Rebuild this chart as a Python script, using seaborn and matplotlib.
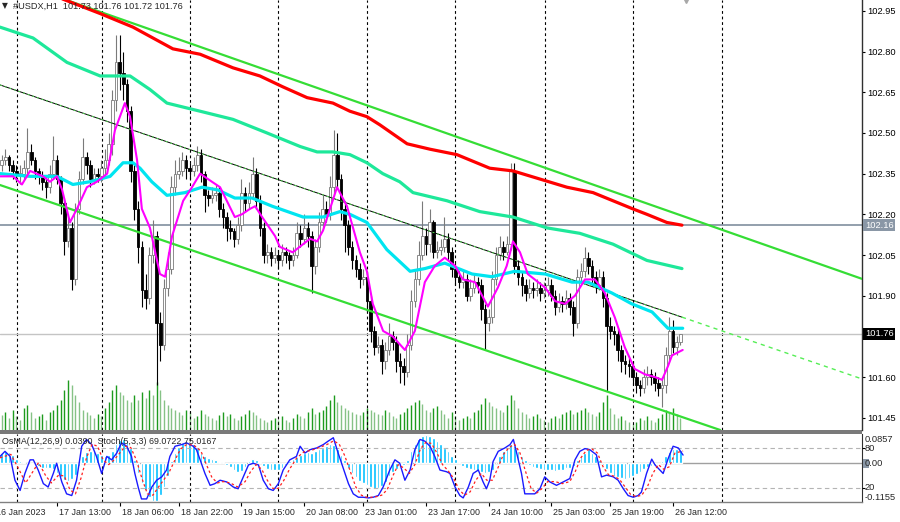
import numpy as np
import pandas as pd
import matplotlib
matplotlib.use("Agg")
import matplotlib.pyplot as plt
import matplotlib.transforms as mtrans
from matplotlib.patches import Rectangle
import seaborn as sns

sns.set_style("white")
plt.rcParams["font.family"] = ["Liberation Sans", "DejaVu Sans"]
plt.rcParams["axes.unicode_minus"] = False

# ---- H1 bars (index 0 = first visible bar) ----
open_first = 102.38
closes = [
    102.40, 102.41, 102.38, 102.36, 102.35, 102.35, 102.37, 102.43, 102.40, 102.36,
    102.34, 102.32, 102.30, 102.35, 102.40, 102.33, 102.24, 102.10, 102.15, 101.96,
    102.22, 102.33, 102.41, 102.38, 102.33, 102.35, 102.34, 102.37, 102.40, 102.46,
    102.62, 102.76, 102.72, 102.68, 102.58, 102.36, 102.22, 102.08, 101.92, 101.89,
    102.05, 102.12, 101.80, 101.72, 101.93, 102.00, 102.30, 102.35, 102.36, 102.40,
    102.37, 102.36, 102.38, 102.42, 102.35, 102.27, 102.26, 102.27, 102.28, 102.22,
    102.19, 102.15, 102.14, 102.11, 102.16, 102.28, 102.24, 102.28, 102.35, 102.25,
    102.15, 102.05, 102.06, 102.04, 102.05, 102.03, 102.06, 102.05, 102.03, 102.05,
    102.13, 102.11, 102.15, 102.12, 102.01, 102.08, 102.17, 102.22, 102.20, 102.30,
    102.42, 102.33, 102.22, 102.16, 102.08, 102.03, 102.00, 101.96, 101.97, 101.88,
    101.77, 101.71, 101.72, 101.66, 101.70, 101.75, 101.73, 101.66, 101.64, 101.62,
    101.72, 101.88, 101.96, 102.05, 102.12, 102.09, 102.17, 102.06, 102.07, 102.08,
    102.11, 102.06, 102.00, 101.97, 101.95, 101.96, 101.90, 101.93, 101.95, 101.94,
    101.85, 101.80, 101.82, 101.96, 102.05, 102.08, 102.06, 102.09, 102.36, 102.01,
    101.97, 101.94, 101.91, 101.93, 101.92, 101.93, 101.91, 101.92, 101.94, 101.90,
    101.86, 101.88, 101.87, 101.89, 101.86, 101.80, 101.97, 101.99, 102.04, 102.01,
    101.97, 101.94, 101.97, 101.89, 101.79, 101.77, 101.76, 101.70, 101.66, 101.65,
    101.64, 101.60, 101.57, 101.56, 101.60, 101.61, 101.60, 101.58, 101.56, 101.57,
    101.68, 101.77, 101.71, 101.73, 101.76]
highs = [
    102.42, 102.44, 102.42, 102.40, 102.38, 102.38, 102.40, 102.52, 102.46, 102.41,
    102.37, 102.36, 102.34, 102.38, 102.49, 102.42, 102.34, 102.26, 102.19, 102.17,
    102.24, 102.36, 102.48, 102.43, 102.40, 102.37, 102.37, 102.40, 102.44, 102.50,
    102.66, 102.86, 102.86, 102.80, 102.70, 102.60, 102.38, 102.25, 102.10, 101.98,
    102.08, 102.18, 102.14, 101.84, 101.96, 102.06, 102.34, 102.40, 102.41, 102.43,
    102.42, 102.39, 102.41, 102.45, 102.44, 102.36, 102.29, 102.30, 102.31, 102.30,
    102.24, 102.21, 102.18, 102.15, 102.19, 102.33, 102.30, 102.32, 102.41, 102.37,
    102.27, 102.17, 102.09, 102.08, 102.08, 102.07, 102.09, 102.08, 102.06, 102.08,
    102.17, 102.16, 102.20, 102.17, 102.14, 102.11, 102.21, 102.27, 102.25, 102.34,
    102.51, 102.50, 102.35, 102.25, 102.18, 102.10, 102.05, 102.02, 102.00, 101.99,
    101.90, 101.79, 101.75, 101.74, 101.73, 101.80, 101.77, 101.75, 101.69, 101.67,
    101.76, 101.92, 102.00, 102.10, 102.25, 102.15, 102.22, 102.18, 102.10, 102.11,
    102.19, 102.13, 102.08, 102.02, 101.99, 101.99, 101.98, 101.96, 101.98, 101.97,
    101.96, 101.87, 101.85, 101.99, 102.08, 102.12, 102.10, 102.12, 102.39, 102.39,
    102.03, 101.99, 101.96, 101.96, 101.95, 101.96, 101.95, 101.95, 101.97, 101.96,
    101.92, 101.91, 101.90, 101.92, 101.91, 101.88, 102.00, 102.02, 102.08, 102.06,
    102.03, 101.99, 102.00, 101.99, 101.91, 101.82, 101.79, 101.78, 101.72, 101.68,
    101.67, 101.66, 101.62, 101.59, 101.63, 101.64, 101.63, 101.62, 101.60, 101.60,
    101.71, 101.82, 101.81, 101.75, 101.76]
lows = [
    102.36, 102.38, 102.36, 102.33, 102.32, 102.31, 102.33, 102.35, 102.38, 102.33,
    102.31, 102.29, 102.26, 102.28, 102.33, 102.31, 102.20, 102.05, 102.08, 101.92,
    101.94, 102.20, 102.31, 102.35, 102.30, 102.31, 102.32, 102.32, 102.35, 102.38,
    102.42, 102.58, 102.66, 102.62, 102.54, 102.32, 102.18, 102.02, 101.86, 101.85,
    101.87, 102.02, 101.57, 101.66, 101.70, 101.90, 101.98, 102.27, 102.33, 102.34,
    102.33, 102.33, 102.34, 102.36, 102.32, 102.21, 102.23, 102.24, 102.25, 102.19,
    102.15, 102.10, 102.11, 102.08, 102.09, 102.14, 102.21, 102.22, 102.26, 102.22,
    102.12, 102.02, 102.02, 102.01, 102.02, 102.00, 102.01, 102.02, 102.00, 102.01,
    102.04, 102.08, 102.09, 102.08, 101.91, 101.98, 102.06, 102.15, 102.17, 102.18,
    102.28, 102.30, 102.18, 102.06, 102.05, 102.00, 101.97, 101.93, 101.94, 101.84,
    101.73, 101.68, 101.69, 101.61, 101.63, 101.68, 101.70, 101.62, 101.58, 101.57,
    101.60, 101.70, 101.86, 101.94, 102.03, 102.05, 102.06, 102.04, 102.04, 102.05,
    102.06, 102.03, 101.97, 101.94, 101.93, 101.93, 101.88, 101.88, 101.91, 101.91,
    101.81, 101.70, 101.77, 101.80, 101.94, 102.03, 102.03, 102.05, 102.07, 101.98,
    101.94, 101.90, 101.88, 101.89, 101.89, 101.90, 101.88, 101.89, 101.90, 101.88,
    101.83, 101.84, 101.84, 101.85, 101.83, 101.75, 101.78, 101.95, 101.97, 101.98,
    101.94, 101.91, 101.92, 101.86, 101.55, 101.74, 101.72, 101.66, 101.62, 101.61,
    101.60, 101.57, 101.54, 101.53, 101.54, 101.57, 101.57, 101.55, 101.53, 101.49,
    101.54, 101.66, 101.69, 101.68, 101.72]
volumes = [
    15, 18, 12, 20, 14, 10, 22, 25, 18, 12, 14, 16, 10, 18, 20,
    25, 30, 40, 50, 45, 35, 28,
    20, 18, 15, 12, 16, 14, 22, 28,
    40, 45, 38, 35, 30, 28, 35,
    30, 38, 32, 40, 35, 48, 40, 30, 25,
    22, 20, 18, 15, 20, 18, 12, 14, 20, 16,
    14, 12, 10, 15, 18, 14, 16, 12, 10, 14, 16, 20, 18, 15, 12,
    10, 8, 10, 12, 10, 14, 10, 8, 12, 16, 14, 12, 18, 22, 16,
    18, 20, 24, 30, 35, 28, 25, 22, 20, 18, 16, 15, 18, 22,
    20, 18, 16, 15, 20, 18, 14, 12, 16, 18, 22,
    25, 28, 30, 26, 20, 18, 22, 24, 20, 16, 12, 18, 14, 10, 12,
    14, 12, 18, 20, 26, 32, 28, 24, 22, 20, 18, 25, 35, 30, 22,
    18, 16, 12, 14, 16, 12, 10, 8, 12, 14, 12, 16, 18, 20, 16,
    18, 20, 22, 18, 16, 14, 18, 28, 35, 22, 16, 12, 14, 10, 8,
    6, 8, 12, 10, 14, 10, 8, 12, 16, 20, 18, 22, 16, 12]
osma = [
    0.030, 0.035, 0.033, 0.025, 0.012, 0.005, 0.002, 0.000, -0.002, -0.004,
    -0.010, -0.014, -0.016, -0.015, -0.018,
    -0.030, -0.042, -0.050, -0.052, -0.048, -0.035, -0.010,
    0.020, 0.032, 0.036, 0.034, 0.030, 0.024, 0.022, 0.025, 0.035,
    0.055, 0.068, 0.072, 0.065, 0.045, 0.010,
    -0.030, -0.060, -0.080, -0.100, -0.112, -0.114, -0.095, -0.070, -0.040,
    0.005, 0.030, 0.048, 0.058, 0.062, 0.060, 0.055, 0.045,
    0.030, 0.020, 0.015, 0.012, 0.008, 0.004, 0.002, -0.005,
    -0.012, -0.020, -0.028, -0.025, -0.012,
    0.005, 0.012, 0.010, 0.002,
    -0.010, -0.018, -0.022, -0.022, -0.020, -0.015,
    -0.005, 0.005, 0.012, 0.018,
    0.025, 0.030, 0.032, 0.030, 0.034, 0.040, 0.045, 0.050, 0.055,
    0.052, 0.040, 0.025, 0.008,
    -0.015, -0.030, -0.042, -0.052, -0.060,
    -0.066, -0.072, -0.076, -0.074, -0.068, -0.055, -0.040, -0.028,
    -0.018, -0.010, -0.006, 0.010,
    0.035, 0.055, 0.070, 0.080, 0.082, 0.080, 0.075, 0.065,
    0.055, 0.045, 0.035, 0.022, 0.012, 0.004,
    -0.008, -0.015, -0.018, -0.020, -0.024, -0.026, -0.030, -0.028, -0.020,
    0.000, 0.020, 0.035, 0.045, 0.055,
    0.050, 0.035, 0.020, 0.008,
    -0.005, -0.012, -0.016, -0.018, -0.020, -0.022, -0.022, -0.024, -0.022,
    -0.020, -0.016, -0.014, -0.008,
    0.010, 0.022, 0.030, 0.040, 0.030, 0.022, 0.010,
    -0.005, -0.018, -0.030, -0.038, -0.042, -0.044, -0.046, -0.045, -0.040,
    -0.034, -0.026, -0.018,
    -0.012, -0.008, -0.005, -0.002, 0.005,
    0.020, 0.032, 0.040, 0.042, 0.039]

# stochastic main / signal (bar position, value)
stoch_i = [-0.45, 0.9, 2.3, 3.6, 5.0, 6.3, 7.7, 8.6, 9.9, 11.3,
           12.6, 14.0, 14.9, 16.3, 17.6, 19.0, 20.3, 21.7, 23.0, 24.4,
           25.7, 27.1, 28.5, 29.8, 31.2, 32.5, 33.9, 35.2, 36.1, 37.0,
           37.9, 39.3, 40.7, 42.0, 43.4, 44.7, 45.6, 47.0, 48.8, 50.1,
           51.9, 52.8, 53.8, 55.1, 56.5, 57.8, 59.2, 61.0, 62.8, 64.1,
           65.5, 66.9, 68.2, 69.6, 70.9, 72.3, 73.6, 75.0, 76.3, 78.1,
           79.9, 80.9, 82.2, 83.6, 85.4, 87.2, 88.5, 89.9, 91.2, 92.6,
           94.0, 95.3, 96.7, 98.0, 99.4, 100.7, 102.1, 103.4, 105.2, 106.6,
           107.9, 109.3, 110.7, 112.0, 113.4, 114.7, 116.1, 117.4, 118.8, 120.6,
           121.5, 122.9, 124.2, 125.1, 126.5, 127.8, 129.2, 130.5, 131.4, 132.3,
           133.2, 134.6, 136.4, 137.8, 138.7, 139.6, 140.9, 141.8, 143.2, 144.5,
           145.9, 147.2, 148.6, 150.4, 152.2, 154.0, 155.4, 156.7, 158.1, 159.4,
           161.2, 162.6, 164.0, 165.8, 167.1, 168.5, 169.8, 171.2, 172.5, 173.4,
           174.8, 176.2, 177.1, 178.4, 179.3, 180.7, 182.0, 183.4, 184.7]
stoch_k = [67, 74.5, 67, 32, 17, 42, 62, 62, 47, 27,
           22, 42, 57, 29.5, 12, 9.5, 32, 82, 92, 84.5,
           67, 42, 67, 62, 72, 87, 82, 67, 42, 22,
           4.5, 4.5, 22, 32, 37, 47, 67, 82, 84.5, 87,
           82, 77, 62, 42, 24.5, 27, 32, 29.5, 22, 19.5,
           37, 54.5, 57, 54.5, 32, 19.5, 17, 27, 47, 62,
           67, 82, 72, 77, 79.5, 84.5, 89.5, 94.5, 72, 49.5,
           27, 12, 7, 7, 6, 7, 9.5, 22, 47, 62,
           57, 32, 47, 77, 92, 89.5, 82, 67, 47, 44.5,
           42, 22, 9.5, 6, 22, 42, 47, 29.5, 19.5, 32,
           59.5, 74.5, 79.5, 84.5, 92, 72, 42, 12, 12, 12,
           19.5, 37, 29.5, 24.5, 29.5, 34.5, 62, 74.5, 78.5, 77,
           69.5, 37, 39.5, 37, 32, 19.5, 9.5, 7, 9.5, 14.5,
           42, 63, 54.5, 47, 42, 64.5, 82, 79.5, 69]
sig_i = [-0.45, 2.5, 4.5, 6.5, 8.5, 10, 12, 13.5, 15.5, 17,
         18.5, 20, 21.5, 23, 24.5, 26, 27.5, 29, 30.5, 32,
         33.5, 35, 36.5, 38, 39.5, 41, 42.5, 44, 45.5, 47,
         48.5, 50, 52, 54, 55.5, 57, 58.5, 60, 62, 64,
         66, 67.5, 69, 70.5, 72, 73.5, 75, 76.5, 78, 80,
         82, 84, 86, 88, 90, 91.5, 93, 94.5, 96, 97.5,
         99, 101, 103, 104.5, 106, 107.5, 109, 110.5, 112, 113.5,
         115, 116.5, 118, 119.5, 121, 122.5, 124, 125.5, 127, 128.5,
         130, 131.5, 133, 134.5, 136, 137.5, 139, 140.5, 142, 143.5,
         145, 146.5, 148, 150, 152, 154, 155.5, 157, 158.5, 160,
         161.5, 163, 164.5, 166, 167.5, 169, 170.5, 172, 173.5, 175,
         176.5, 178, 179.5, 181, 182.5, 184.7]
sig_d = [65, 70, 50, 28, 45, 58, 38, 28, 40, 38,
         18, 12, 35, 65, 85, 82, 62, 55, 62, 72,
         82, 80, 62, 35, 12, 10, 22, 33, 45, 62,
         78, 84, 84, 75, 55, 36, 28, 30, 28, 22,
         30, 45, 55, 48, 32, 20, 20, 32, 48, 65,
         74, 76, 80, 84, 90, 85, 68, 45, 22, 10,
         7, 7, 10, 18, 38, 55, 50, 42, 55, 78,
         88, 86, 72, 55, 46, 35, 18, 10, 15, 32,
         42, 32, 32, 50, 70, 80, 85, 72, 45, 20,
         13, 20, 30, 30, 27, 30, 45, 65, 76, 78,
         72, 52, 40, 38, 33, 22, 11, 8, 10, 22,
         42, 55, 48, 52, 72, 75]

# moving averages (bar position, price)
red_i = [-0.45, 17.2, 26.7, 35.6, 41.0, 46.4, 53.8, 62.7, 70.0, 76.2,
         82.8, 89.8, 94.4, 99.0, 102.5, 109.9, 116.1, 123.4, 132.3, 138.6,
         145.9, 153.2, 160.3, 165.7, 171.1, 174.9, 180.3, 184.4]
red_p = [103.08, 102.99, 102.94, 102.89, 102.85, 102.81, 102.79, 102.74, 102.71, 102.67,
         102.63, 102.61, 102.58, 102.56, 102.53, 102.46, 102.44, 102.42, 102.37, 102.36,
         102.33, 102.30, 102.28, 102.25, 102.22, 102.20, 102.17, 102.16]
spring_i = [-0.45, 8.5, 17.7, 26.7, 34.8, 40.2, 44.8, 53.8, 62.7, 71.9,
            80.9, 85.5, 89.8, 94.4, 99.0, 103.3, 107.9, 111.5, 120.7, 129.6,
            138.6, 147.8, 156.7, 165.7, 174.9, 184.4]
spring_p = [102.89, 102.85, 102.76, 102.71, 102.71, 102.66, 102.61, 102.58, 102.55, 102.50,
            102.45, 102.43, 102.43, 102.42, 102.39, 102.35, 102.32, 102.28, 102.25, 102.21,
            102.19, 102.15, 102.13, 102.09, 102.03, 102.00]
cyan_i = [-0.45, 7.7, 15.0, 19.3, 23.9, 29.4, 32.9, 35.6, 37.5, 40.7,
          44.8, 49.7, 54.3, 58.6, 63.2, 67.9, 73.3, 81.7, 87.1, 91.7,
          94.4, 99.0, 104.4, 110.7, 114.7, 120.1, 127.5, 132.9, 139.1, 147.3,
          154.6, 158.9, 165.4, 170.8, 176.3, 180.6, 184.6]
cyan_p = [102.35, 102.34, 102.34, 102.31, 102.32, 102.34, 102.39, 102.39, 102.37, 102.32,
          102.27, 102.28, 102.30, 102.29, 102.26, 102.26, 102.23, 102.19, 102.19, 102.21,
          102.20, 102.17, 102.07, 101.99, 102.00, 102.02, 101.98, 101.97, 101.99, 101.98,
          101.95, 101.95, 101.91, 101.87, 101.84, 101.78, 101.78]
mag_i = [-0.45, 3.1, 5.5, 7.7, 11.2, 13.1, 15.0, 16.4, 18.5, 20.4,
         23.1, 25.8, 28.6, 30.7, 33.4, 34.8, 36.7, 38.0, 40.2, 42.9,
         44.3, 46.2, 49.2, 51.6, 53.8, 57.0, 59.2, 63.2, 65.1, 67.3,
         68.7, 70.6, 74.1, 75.4, 78.9, 81.7, 83.6, 85.5, 87.1, 89.0,
         90.9, 93.6, 97.1, 99.0, 100.6, 103.4, 106.0, 109.3, 112.0, 114.7,
         117.4, 120.1, 122.9, 125.0, 128.3, 131.8, 134.5, 136.9, 138.6, 140.5,
         142.6, 147.3, 150.0, 152.7, 155.4, 158.1, 160.8, 163.5, 166.2, 168.9,
         171.6, 174.4, 177.1, 179.0, 180.6, 181.7, 184.6]
mag_p = [102.34, 102.34, 102.31, 102.36, 102.34, 102.32, 102.34, 102.29, 102.17, 102.22,
         102.30, 102.32, 102.35, 102.51, 102.61, 102.56, 102.40, 102.22, 102.15, 101.98,
         101.97, 102.12, 102.25, 102.30, 102.35, 102.32, 102.30, 102.19, 102.20, 102.22,
         102.23, 102.19, 102.12, 102.08, 102.06, 102.09, 102.11, 102.10, 102.14, 102.22,
         102.30, 102.23, 102.06, 101.99, 101.87, 101.77, 101.75, 101.70, 101.77, 101.95,
         102.01, 102.04, 102.01, 101.96, 101.95, 101.86, 101.93, 102.01, 102.10, 102.06,
         101.98, 101.93, 101.88, 101.87, 101.90, 101.96, 101.96, 101.91, 101.82, 101.71,
         101.63, 101.61, 101.60, 101.59, 101.64, 101.68, 101.70]

# trend channel (two read points per line)
chan_upper = [(80.9, 102.688), (232.6, 101.965)]
chan_lower = [(-0.45, 102.308), (193.9, 101.409)]
chan_mid_drawn = [(-0.45, 102.677), (184.4, 101.821)]
chan_mid_ray = [(184.4, 101.821), (232.6, 101.596)]

price_ticks = [101.45, 101.60, 101.75, 101.90, 102.05, 102.20, 102.35, 102.50, 102.65, 102.80, 102.95]
level_line = 102.16
last_price = 101.76
time_labels = ["16 Jan 2023", "17 Jan 13:00", "18 Jan 06:00", "18 Jan 22:00", "19 Jan 15:00",
               "20 Jan 08:00", "23 Jan 01:00", "23 Jan 17:00", "24 Jan 10:00", "25 Jan 03:00",
               "25 Jan 19:00", "26 Jan 12:00"]
time_idx = [-2, 15, 32, 48, 65, 82, 98, 115, 132, 149, 165, 182]
grid_idx = [4.1, 27.1, 51.0, 74.9, 99.0, 122.9, 147.2, 171.1, 195.2]

df = pd.DataFrame({"close": closes, "high": highs, "low": lows,
                   "vol": volumes, "osma": osma})
df["open"] = [open_first] + closes[:-1]
df["idx"] = np.arange(len(df))
bull = (df["close"] >= df["open"]).to_numpy()

# ---- figure layout in pixels ----
W, H = 900, 522
fig = plt.figure(figsize=(9, 5.22), dpi=100)


def px_box(x0, y0, x1, y1):
    return [x0 / W, 1 - y1 / H, (x1 - x0) / W, (y1 - y0) / H]


ax = fig.add_axes(px_box(0, 0, 862, 430))
vol_ax = ax.twinx()
ax_ind = fig.add_axes(px_box(0, 434, 862, 502))
ax_st = ax_ind.twinx()
XR = (-0.45, 233.2)
FS = 6.7

vol_ax.set_zorder(0)
ax.set_zorder(1)
ax.patch.set_visible(False)

# volume
vol_up = (df["vol"].diff().fillna(0) > 0).to_numpy()
vol_ax.vlines(df["idx"], 0, df["vol"], colors=np.where(vol_up, "#1e9b1e", "#86c286").tolist(), lw=1.0)
vol_ax.set_ylim(0, 430)
vol_ax.set_axis_off()

# grid + levels
for g in grid_idx:
    ax.axvline(g, color="black", lw=0.8, ls=(0, (2.5, 2.5)), zorder=1)
    ax_ind.axvline(g, color="black", lw=0.8, ls=(0, (2.5, 2.5)), zorder=1)
ax.axhline(level_line, color="#8a97a6", lw=1.3, zorder=2)
ax.axhline(last_price, color="#c4c4c4", lw=1.0, zorder=2)

# candles
body_lo = df[["open", "close"]].min(axis=1)
body_h = (df["close"] - df["open"]).abs().clip(lower=0.003)
ax.vlines(df["idx"], df["low"], df["high"], colors=np.where(bull, "#7a7a7a", "black").tolist(),
          lw=0.8, zorder=3)
ax.bar(df["idx"], body_h, bottom=body_lo, width=0.72,
       color=np.where(bull, "white", "black").tolist(),
       edgecolor=np.where(bull, "#7a7a7a", "black").tolist(), linewidth=0.6, zorder=4)

# channel
ax.axline(chan_upper[0], chan_upper[1], color="#35dd35", lw=1.6, zorder=5)
ax.axline(chan_lower[0], chan_lower[1], color="#35dd35", lw=1.6, zorder=5)
mx, my = zip(*chan_mid_drawn)
ax.plot(mx, my, color="black", lw=0.7, zorder=5)
ax.plot(mx, my, color="#50e050", lw=0.7, ls=(0, (2, 3)), zorder=5)
rx, ry = zip(*chan_mid_ray)
ax.plot(rx, ry, color="#55ee55", lw=1.0, ls=(0, (3, 3)), zorder=5)

# moving averages
sns.lineplot(x=red_i, y=red_p, ax=ax, color="#ff0000", lw=2.3, zorder=6)
sns.lineplot(x=spring_i, y=spring_p, ax=ax, color="#1ee89a", lw=2.3, zorder=6)
sns.lineplot(x=cyan_i, y=cyan_p, ax=ax, color="#00e5f0", lw=2.3, zorder=6)
sns.lineplot(x=mag_i, y=mag_p, ax=ax, color="#ff00ff", lw=1.5, zorder=7)

ax.set_xlim(*XR)
ax.set_ylim(101.405, 102.990)
ax.set_xlabel("")
ax.set_ylabel("")
ax.set_xticks([])
ax.yaxis.tick_right()
ax.set_yticks(price_ticks)
# the 101.75 label sits under the last-price box, so only its tick mark is drawn
ax.set_yticklabels(["" if abs(p - 101.75) < 1e-6 else f"{p:.2f}" for p in price_ticks])
ax.tick_params(axis="y", right=True, left=False, direction="out", length=2.5, width=0.8,
               pad=1.5, labelsize=FS, colors="black")
for s in ("left", "top", "bottom"):
    ax.spines[s].set_visible(False)
ax.spines["right"].set_color("#303030")
ax.spines["right"].set_linewidth(1.0)

ytr = mtrans.blended_transform_factory(ax.transAxes, ax.transData)
ax.text(1 + 3 / 862, level_line, "102.16", transform=ytr, color="white", fontsize=FS,
        va="center", ha="left", clip_on=False, zorder=10,
        bbox=dict(boxstyle="square,pad=0.18", fc="#8a97a6", ec="none"))
ax.text(1 + 3 / 862, last_price, "101.76", transform=ytr, color="white", fontsize=FS,
        va="center", ha="left", clip_on=False, zorder=10,
        bbox=dict(boxstyle="square,pad=0.18", fc="black", ec="none"))
ax.plot([185.5], [1.0], marker="v", ms=5, color="#a8a8a8",
        transform=mtrans.blended_transform_factory(ax.transData, ax.transAxes), clip_on=False)

# ---- indicator window ----
ax_ind.bar(df["idx"], df["osma"], width=0.72, color="#00bfff", zorder=2)
ax_ind.axhline(0, color="#a0a0a0", lw=1.0, zorder=1)
ax_ind.set_ylim(-0.1155, 0.0857)
ax_ind.set_xlim(*XR)
ax_ind.set_yticks([])
ax_ind.set_xticks([i for i in time_idx if i >= 0])
ax_ind.tick_params(axis="x", bottom=True, direction="out", length=3, width=0.8,
                   labelbottom=False, colors="black")
for s in ("left", "top"):
    ax_ind.spines[s].set_visible(False)
ax_ind.spines["right"].set_color("#303030")
ax_ind.spines["bottom"].set_color("#808080")
ax_ind.spines["bottom"].set_linewidth(1.0)

ax_st.set_ylim(0, 100)
for lvl in (80, 20):
    ax_st.axhline(lvl, color="#b4b4b4", lw=0.8, ls=(0, (4, 3)))
sns.lineplot(x=stoch_i, y=stoch_k, ax=ax_st, color="#1a1aff", lw=1.0)
sns.lineplot(x=sig_i, y=sig_d, ax=ax_st, color="#ff2020", lw=0.9, linestyle=(0, (2, 2)))
ax_st.set_xlim(*XR)
ax_st.set_ylabel("")
ax_st.set_yticks([80, 20])
ax_st.tick_params(axis="y", right=True, direction="out", length=2.5, width=0.8,
                  labelright=False, colors="black")
for s in ax_st.spines.values():
    s.set_visible(False)

xtr = ax_ind.get_xaxis_transform()
for lbl, i in zip(time_labels, time_idx):
    ax_ind.text(i + 0.55, -0.15, lbl, transform=xtr, ha="left", va="center",
                fontsize=6.4, clip_on=False)

# separator band between windows
fig.add_artist(Rectangle((0, 1 - 434 / H), 862 / W, 4 / H, transform=fig.transFigure,
                         color="#7a7a7a", lw=0))

# texts in pixel positions
def ftext(x, y, s, **kw):
    fig.text(x / W, 1 - y / H, s, va="center", ha="left", **kw)


ftext(2, 6, "\u25bc", fontsize=5.5, family="DejaVu Sans")
ftext(13, 6.5, "#USDX,H1  101.73 101.76 101.72 101.76", fontsize=6.6)
ftext(2, 441.5, "OsMA(12,26,9) 0.0390  Stoch(5,3,3) 69.0722 75.0167", fontsize=6.4)
fig.add_artist(Rectangle((863 / W, 1 - 468 / H), 6 / W, 9 / H, transform=fig.transFigure,
                         color="#8a97a6", lw=0))
ftext(865, 440, "0.0857", fontsize=FS)
ftext(865, 448.5, "80", fontsize=FS)
ftext(865, 463.5, "0.00", fontsize=FS)
ftext(865, 488, "20", fontsize=FS)
ftext(865, 497, "-0.1155", fontsize=FS)

fig.savefig("out.png", dpi=100)
